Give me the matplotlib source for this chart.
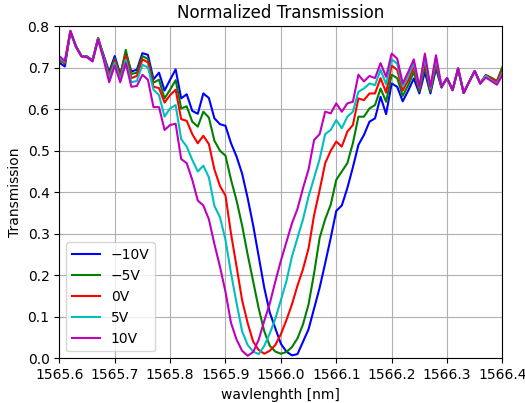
import numpy as np
import matplotlib
matplotlib.use('Agg')
import matplotlib.pyplot as plt

# wavelength grid, 0.01 nm steps
wavelength = np.round(np.arange(1565.60, 1566.405, 0.01), 2)

# transmission traces (one per bias voltage)
t_m10 = [0.712, 0.703, 0.786, 0.752, 0.728, 0.727, 0.718, 0.770, 0.730, 0.690,
         0.728, 0.684, 0.735, 0.691, 0.695, 0.735, 0.731, 0.672, 0.688, 0.645,
         0.671, 0.696, 0.626, 0.636, 0.596, 0.589, 0.638, 0.627, 0.578, 0.564,
         0.560, 0.518, 0.486, 0.445, 0.386, 0.320, 0.245, 0.170, 0.110, 0.072,
         0.035, 0.016, 0.007, 0.010, 0.040, 0.070, 0.120, 0.170, 0.229, 0.290,
         0.355, 0.368, 0.410, 0.460, 0.514, 0.538, 0.570, 0.578, 0.630, 0.588,
         0.662, 0.654, 0.619, 0.645, 0.674, 0.638, 0.690, 0.638, 0.698, 0.652,
         0.675, 0.646, 0.698, 0.639, 0.666, 0.692, 0.662, 0.682, 0.674, 0.666,
         0.690]
t_m5 = [0.718, 0.710, 0.787, 0.752, 0.728, 0.727, 0.718, 0.772, 0.728, 0.685,
        0.722, 0.680, 0.743, 0.685, 0.688, 0.728, 0.721, 0.664, 0.671, 0.626,
        0.647, 0.670, 0.602, 0.607, 0.570, 0.558, 0.594, 0.580, 0.524, 0.500,
        0.488, 0.430, 0.380, 0.320, 0.250, 0.185, 0.120, 0.065, 0.030, 0.016,
        0.011, 0.015, 0.027, 0.048, 0.082, 0.130, 0.205, 0.290, 0.335, 0.370,
        0.430, 0.450, 0.470, 0.518, 0.582, 0.582, 0.602, 0.610, 0.650, 0.618,
        0.683, 0.675, 0.632, 0.658, 0.690, 0.643, 0.703, 0.642, 0.705, 0.654,
        0.675, 0.646, 0.698, 0.639, 0.666, 0.692, 0.662, 0.682, 0.676, 0.668,
        0.702]
t_0 = [0.720, 0.712, 0.788, 0.751, 0.728, 0.726, 0.717, 0.771, 0.726, 0.680,
       0.718, 0.676, 0.730, 0.675, 0.680, 0.720, 0.713, 0.654, 0.651, 0.616,
       0.634, 0.647, 0.576, 0.572, 0.540, 0.518, 0.536, 0.516, 0.455, 0.415,
       0.392, 0.300, 0.221, 0.140, 0.085, 0.040, 0.020, 0.011, 0.018, 0.032,
       0.058, 0.092, 0.130, 0.175, 0.215, 0.265, 0.345, 0.405, 0.470, 0.500,
       0.522, 0.510, 0.546, 0.562, 0.626, 0.622, 0.638, 0.638, 0.675, 0.640,
       0.705, 0.695, 0.645, 0.670, 0.702, 0.648, 0.715, 0.647, 0.714, 0.654,
       0.675, 0.646, 0.698, 0.639, 0.666, 0.692, 0.662, 0.682, 0.674, 0.667,
       0.695]
t_p5 = [0.722, 0.714, 0.788, 0.751, 0.728, 0.726, 0.716, 0.770, 0.724, 0.674,
        0.712, 0.671, 0.720, 0.665, 0.668, 0.707, 0.701, 0.647, 0.634, 0.582,
        0.602, 0.610, 0.528, 0.510, 0.478, 0.450, 0.464, 0.436, 0.367, 0.340,
        0.285, 0.205, 0.133, 0.065, 0.032, 0.016, 0.010, 0.030, 0.060, 0.095,
        0.140, 0.186, 0.245, 0.290, 0.335, 0.390, 0.435, 0.480, 0.540, 0.550,
        0.574, 0.554, 0.582, 0.594, 0.642, 0.650, 0.662, 0.658, 0.695, 0.660,
        0.720, 0.710, 0.655, 0.680, 0.712, 0.652, 0.725, 0.650, 0.722, 0.655,
        0.675, 0.646, 0.698, 0.639, 0.666, 0.692, 0.662, 0.680, 0.670, 0.662,
        0.688]
t_p10 = [0.728, 0.716, 0.789, 0.750, 0.727, 0.725, 0.715, 0.768, 0.720, 0.665,
         0.705, 0.665, 0.711, 0.654, 0.656, 0.683, 0.671, 0.605, 0.605, 0.550,
         0.562, 0.565, 0.480, 0.470, 0.430, 0.380, 0.368, 0.335, 0.275, 0.221,
         0.160, 0.085, 0.045, 0.018, 0.006, 0.015, 0.045, 0.090, 0.132, 0.185,
         0.235, 0.280, 0.325, 0.360, 0.410, 0.455, 0.526, 0.540, 0.594, 0.590,
         0.614, 0.594, 0.614, 0.618, 0.683, 0.667, 0.680, 0.675, 0.711, 0.678,
         0.734, 0.722, 0.662, 0.690, 0.720, 0.654, 0.734, 0.654, 0.730, 0.655,
         0.675, 0.646, 0.698, 0.639, 0.666, 0.692, 0.662, 0.676, 0.668, 0.659,
         0.682]

traces = [t_m10, t_m5, t_0, t_p5, t_p10]
labels = ['\u221210V', '\u22125V', '0V', '5V', '10V']
colors = ['b', 'g', 'r', 'c', 'm']

fig = plt.figure(figsize=(5.25, 4.03), dpi=100)
ax = fig.add_axes([0.113, 0.111, 0.844, 0.824])

for t, lab, c in zip(traces, labels, colors):
	ax.plot(wavelength, t, color=c, lw=1.5, label=lab)

ax.set_xlim(1565.6, 1566.4)
ax.set_ylim(0, 0.8)
ax.set_xticks(np.arange(1565.6, 1566.45, 0.1))
ax.set_xticklabels(['%.1f' % v for v in np.arange(1565.6, 1566.45, 0.1)])
ax.set_yticks(np.arange(0, 0.85, 0.1))
ax.set_yticklabels(['%.1f' % v for v in np.arange(0, 0.85, 0.1)])
ax.grid(True)
ax.set_title('Normalized Transmission')
ax.set_xlabel('wavlenghth [nm]')
ax.set_ylabel('Transmission')
ax.legend(loc='lower left')

fig.savefig('out.png', dpi=100)
